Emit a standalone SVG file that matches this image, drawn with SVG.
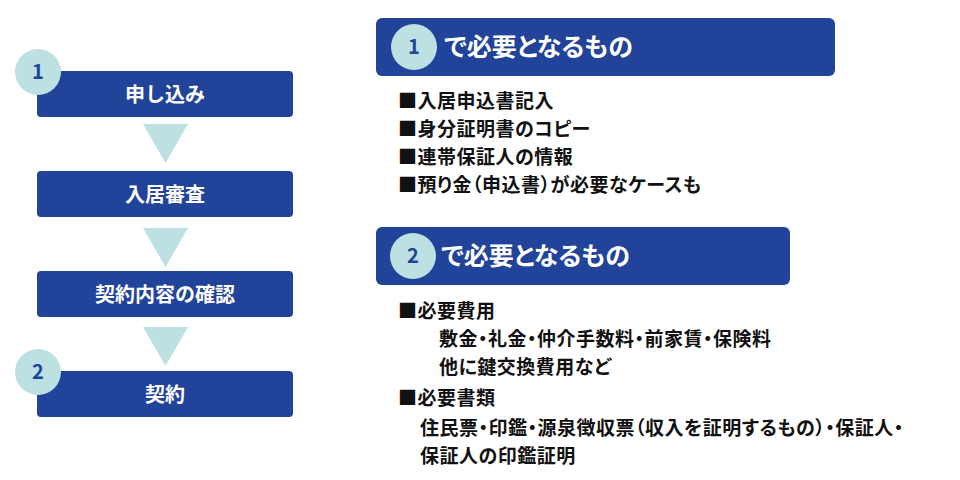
<svg xmlns="http://www.w3.org/2000/svg" width="960" height="480" viewBox="0 0 960 480">
<style>
.box{fill:#22439a}
.circ{fill:#bde0e3}
.tri{fill:#bde0e3}
.bt{font-family:"Noto Sans CJK JP",sans-serif;font-weight:700;fill:#fff;font-size:20px;text-anchor:middle}
.num{font-family:"Noto Sans CJK JP",sans-serif;font-weight:700;fill:#22439a;font-size:20px;text-anchor:middle}
.ht{font-family:"Noto Sans CJK JP",sans-serif;font-weight:700;fill:#fff;font-size:25px;font-feature-settings:"palt"}
.lt{font-family:"Noto Sans CJK JP",sans-serif;font-weight:700;fill:#111;font-size:19px;font-feature-settings:"palt";letter-spacing:0.5px}
</style>
<rect width="960" height="480" fill="#fff"/>
<g id="connectors">
<polygon class="tri" points="143,124 188,124 165.5,163"/>
<polygon class="tri" points="143,228 188,228 165.5,267"/>
<polygon class="tri" points="143,327 188,327 165.5,366"/>
</g>
<g id="n1"><rect class="box" x="37" y="71" width="256" height="46" rx="4"/><text class="bt" x="165" y="102">申し込み</text><circle class="circ" cx="38" cy="72" r="23"/><text class="num" x="38" y="79">1</text></g>
<g id="n2"><rect class="box" x="37" y="171" width="256" height="46" rx="4"/><text class="bt" x="165" y="202">入居審査</text></g>
<g id="n3"><rect class="box" x="37" y="271" width="256" height="46" rx="4"/><text class="bt" x="165" y="302">契約内容の確認</text></g>
<g id="n4"><rect class="box" x="37" y="371" width="256" height="46" rx="4"/><text class="bt" x="165" y="402">契約</text><circle class="circ" cx="38" cy="372" r="23"/><text class="num" x="38" y="379">2</text></g>
<g id="h1"><rect class="box" x="376" y="18" width="459" height="58" rx="6"/><circle class="circ" cx="414" cy="47" r="23"/><text class="num" x="414" y="54">1</text><text class="ht" x="444" y="56">で必要となるもの</text></g>
<g id="list1">
<text class="lt" x="398" y="108">■入居申込書記入</text>
<text class="lt" x="398" y="136">■身分証明書のコピー</text>
<text class="lt" x="398" y="164">■連帯保証人の情報</text>
<text class="lt" x="398" y="192">■預り金（申込書）が必要なケースも</text>
</g>
<g id="h2"><rect class="box" x="376" y="227" width="414" height="58" rx="6"/><circle class="circ" cx="413" cy="256" r="23"/><text class="num" x="413" y="263">2</text><text class="ht" x="441" y="265">で必要となるもの</text></g>
<g id="list2">
<text class="lt" x="398" y="318">■必要費用</text>
<text class="lt" x="439" y="346">敷金・礼金・仲介手数料・前家賃・保険料</text>
<text class="lt" x="439" y="374">他に鍵交換費用など</text>
<text class="lt" x="398" y="405">■必要書類</text>
<text class="lt" x="420" y="435">住民票・印鑑・源泉徴収票（収入を証明するもの）・保証人・</text>
<text class="lt" x="420" y="463">保証人の印鑑証明</text>
</g>
</svg>
